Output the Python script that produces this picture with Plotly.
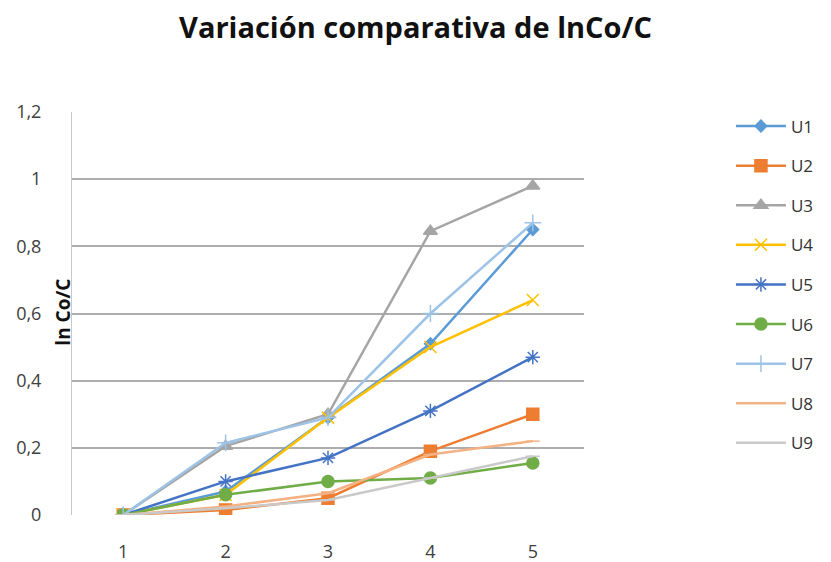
import plotly.graph_objects as go

# Sampling points (x axis) and ln(Co/C) per unit
puntos = [1, 2, 3, 4, 5]
u1 = [0, 0.07, 0.29, 0.51, 0.85]
u2 = [0, 0.015, 0.05, 0.19, 0.30]
u3 = [0, 0.205, 0.30, 0.845, 0.98]
u4 = [0, 0.06, 0.29, 0.50, 0.64]
u5 = [0, 0.10, 0.17, 0.31, 0.47]
u6 = [0, 0.06, 0.10, 0.11, 0.155]
u7 = [0, 0.215, 0.29, 0.60, 0.87]
u8 = [0, 0.025, 0.065, 0.18, 0.22]
u9 = [0, 0.02, 0.045, 0.11, 0.175]

nombres = ["U1", "U2", "U3", "U4", "U5", "U6", "U7", "U8", "U9"]
valores = [u1, u2, u3, u4, u5, u6, u7, u8, u9]
colores = ["#5B9BD5", "#ED7D31", "#A5A5A5", "#FFC000", "#4472C4",
           "#70AD47", "#9DC3E6", "#F4B183", "#C9C9C9"]
simbolos = ["diamond", "square", "triangle-up", "x-thin-open", "asterisk-open",
            "circle", "cross-thin-open", "line-ew-open", "line-ew-open"]
tamanos = [9, 12, 12, 12, 12, 12, 12, 10, 10]

fig = go.Figure()
for nombre, ys, color, sym, sz in zip(nombres, valores, colores, simbolos, tamanos):
    fig.add_trace(go.Scatter(
        x=puntos, y=ys, name=nombre, mode="lines+markers",
        legendgroup=nombre,
        line=dict(color=color, width=2.5),
        marker=dict(symbol=sym, size=sz, color=color,
                    line=dict(color=color, width=1.5)),
    ))

fig.update_layout(
    width=831, height=562,
    margin=dict(l=72, r=244, t=112, b=47),
    paper_bgcolor="white", plot_bgcolor="white",
    separators=",.",
    font=dict(family="Open Sans, Arial, sans-serif", color="#404040"),
    title=dict(text="<b>Variación comparativa de lnCo/C</b>",
               x=0.5, xanchor="center", y=0.95, yanchor="middle",
               font=dict(size=29, color="#111111")),
    showlegend=True,
    legend=dict(x=1.287, xanchor="left", y=0.572, yanchor="middle",
                font=dict(size=17, color="#333333"),
                tracegroupgap=14.5, itemwidth=50,
                borderwidth=0, bgcolor="rgba(0,0,0,0)"),
)

fig.update_xaxes(
    range=[0.5, 5.5], tickvals=puntos, showgrid=False, zeroline=False,
    showline=False, ticks="outside", ticklen=20, tickcolor="rgba(0,0,0,0)",
    tickfont=dict(size=18, color="#404040"), automargin=False,
)
fig.update_yaxes(
    range=[0, 1.2], dtick=0.2, showgrid=True, gridcolor="#ADADAD", gridwidth=1.5,
    zeroline=False, showline=True, linecolor="#C8C8C8", linewidth=1,
    ticks="outside", ticklen=26, tickcolor="rgba(0,0,0,0)",
    tickfont=dict(size=18, color="#404040"), automargin=False,
)

# Vertical axis title, set between the tick labels and the axis line
fig.add_annotation(
    text="<b>ln Co/C</b>", textangle=-90, xref="paper", yref="paper",
    x=-0.018, y=0.504, xanchor="center", yanchor="middle", showarrow=False,
    font=dict(size=19, color="#111111"),
)

fig.write_html("out.html")
